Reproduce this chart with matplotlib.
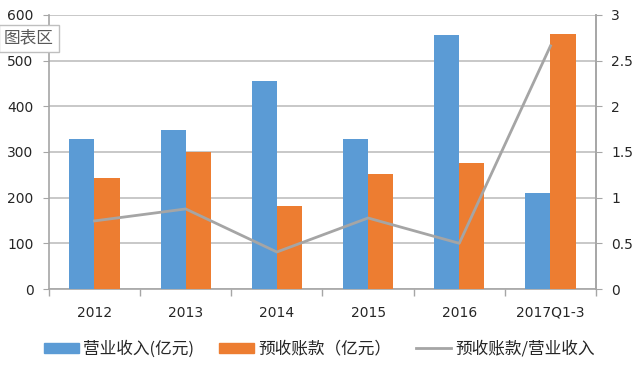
import matplotlib
matplotlib.use("Agg")
import matplotlib.pyplot as plt
import numpy as np
from matplotlib.patches import Patch
from matplotlib.lines import Line2D

plt.rcParams['font.family'] = ['DejaVu Sans', 'Noto Sans CJK SC']

categories = ["2012", "2013", "2014", "2015", "2016", "2017Q1-3"]
revenue = [328, 348, 455, 328, 556, 210]
advance = [243, 300, 182, 252, 276, 558]
ratio = [0.745, 0.876, 0.405, 0.777, 0.50, 2.66]

blue = "#5B9BD5"
orange = "#ED7D31"
grey = "#A5A5A5"
axis_grey = "#A6A6A6"
text_col = "#262626"
cjk = ['Noto Sans CJK SC', 'DejaVu Sans']

fig = plt.figure(figsize=(6.43, 3.71), dpi=100)
ax = fig.add_axes([0.076, 0.221, 0.851, 0.739])
x = np.arange(len(categories))
w = 0.275
ax.bar(x - w/2, revenue, width=w, color=blue, zorder=3)
ax.bar(x + w/2, advance, width=w, color=orange, zorder=3)
ax.set_xlim(-0.5, len(categories) - 0.5)
ax.set_ylim(0, 600)
ax.set_yticks(range(0, 601, 100))
ax.yaxis.grid(True, color="#BFBFBF", linewidth=1.2, zorder=0)
ax.set_xticks(x)
ax.set_xticklabels(categories)
ax.set_xticks(np.arange(-0.5, len(categories), 1), minor=True)
ax.tick_params(axis='x', which='major', length=0, pad=12, labelsize=10, labelcolor=text_col)
ax.tick_params(axis='x', which='minor', length=5, color=axis_grey, width=1)
ax.tick_params(axis='y', length=4, color=axis_grey, labelsize=10, labelcolor=text_col, pad=7)
ax.spines['top'].set_visible(False)
for s in ['left', 'bottom', 'right']:
    ax.spines[s].set_color(axis_grey)
    ax.spines[s].set_linewidth(1.2)

ax2 = ax.twinx()
ax2.plot(x, ratio, color=grey, linewidth=2, zorder=4)
ax2.set_ylim(0, 3)
ax2.set_yticks([0, 0.5, 1, 1.5, 2, 2.5, 3])
ax2.set_yticklabels(["0", "0.5", "1", "1.5", "2", "2.5", "3"])
ax2.tick_params(axis='y', length=4, color=axis_grey, labelsize=10, labelcolor=text_col, pad=7)
for s in ['top', 'left', 'bottom']:
    ax2.spines[s].set_visible(False)
ax2.spines['right'].set_color(axis_grey)
ax2.spines['right'].set_linewidth(1.2)

handles = [Patch(color=blue), Patch(color=orange), Line2D([], [], color=grey, linewidth=2)]
labels = ["营业收入(亿元)", "预收账款（亿元）", "预收账款/营业收入"]
fig.legend(handles, labels, loc='center', bbox_to_anchor=(0.497, 0.059), ncol=3,
           frameon=False, prop={'family': cjk, 'size': 12, 'weight': 'medium'},
           handlelength=2.1, handleheight=0.6,
           columnspacing=1.5, handletextpad=0.25, labelcolor=text_col)

fig.text(0.006, 0.897, "图表区", fontsize=12, family=cjk, color="#595959", va='center', ha='left',
         bbox=dict(boxstyle='square,pad=0.3', facecolor='white', edgecolor='#BFBFBF'), zorder=10)

fig.savefig("out.png", dpi=100)
